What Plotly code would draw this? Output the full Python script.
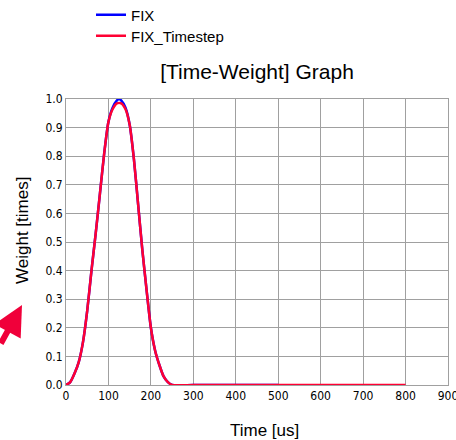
import plotly.graph_objects as go

# Time [us] and weights
time_fix = [0, 10, 20, 30, 40, 50, 60, 70, 80, 90, 100, 110, 120, 125, 130, 140, 150, 160, 170, 180,
            190, 200, 210, 220, 230, 240, 250, 300, 400, 500]
weight_fix = [0.0, 0.01, 0.04, 0.08, 0.15, 0.26, 0.40, 0.53, 0.67, 0.81, 0.92, 0.97, 0.995, 1.0, 0.995,
              0.97, 0.91, 0.79, 0.63, 0.47, 0.33, 0.20, 0.12, 0.07, 0.03, 0.01, 0.0, 0.0, 0.0, 0.0]

time_ts = [0, 10, 20, 30, 40, 50, 60, 70, 80, 90, 100, 110, 120, 130, 140, 150, 160, 170, 180,
           190, 200, 210, 220, 230, 240, 250, 300, 400, 500, 600, 700, 800]
weight_ts = [0.0, 0.01, 0.04, 0.08, 0.15, 0.26, 0.40, 0.53, 0.67, 0.81, 0.92, 0.965, 0.985, 0.985,
             0.965, 0.91, 0.79, 0.63, 0.47, 0.33, 0.20, 0.12, 0.07, 0.03, 0.01, 0.0, 0.0, 0.0, 0.0,
             0.0, 0.0, 0.0]

x_ticks = [0, 100, 200, 300, 400, 500, 600, 700, 800, 900]
y_ticks = [0.0, 0.1, 0.2, 0.3, 0.4, 0.5, 0.6, 0.7, 0.8, 0.9, 1.0]

tick_font = dict(family="Liberation Sans Narrow, Arial Narrow, DejaVu Sans Condensed, sans-serif",
                 size=12, color="black")
legend_font = dict(size=15, color="black")

fig = go.Figure()
fig.add_trace(go.Scatter(x=time_fix, y=weight_fix, name="FIX", mode="lines", legend="legend",
                         line=dict(color="#0000ff", width=2.5, shape="spline", smoothing=0.6)))
fig.add_trace(go.Scatter(x=time_ts, y=weight_ts, name="FIX_Timestep", mode="lines", legend="legend2",
                         line=dict(color="#ff0033", width=2.5, shape="spline", smoothing=0.6)))

fig.update_layout(
    width=456, height=440,
    margin=dict(l=66, r=8, t=99, b=55, autoexpand=False),
    paper_bgcolor="white", plot_bgcolor="white",
    font=dict(family="Liberation Sans, Arial, sans-serif", color="black"),
    title=dict(text="[Time-Weight] Graph", x=257 / 456, xanchor="center",
               y=1 - 72 / 440, yanchor="middle", font=dict(size=21, color="black")),
    showlegend=True,
    legend=dict(xref="container", yref="container", x=91 / 456, y=1 - 15 / 440,
                xanchor="left", yanchor="middle", bgcolor="rgba(0,0,0,0)",
                font=legend_font, itemwidth=30),
    legend2=dict(xref="container", yref="container", x=91 / 456, y=1 - 36 / 440,
                 xanchor="left", yanchor="middle", bgcolor="rgba(0,0,0,0)",
                 font=legend_font, itemwidth=30),
    xaxis=dict(range=[0, 900], tickvals=x_ticks, ticktext=[str(v) for v in x_ticks],
               showgrid=True, gridcolor="#a0a0a0", gridwidth=1, ticklabeloverflow="allow",
               showline=True, linecolor="#a0a0a0", linewidth=1, mirror=True,
               zeroline=False, ticks="", tickfont=tick_font),
    yaxis=dict(range=[0, 1.0], tickvals=y_ticks, ticktext=[f"{v:.1f}" for v in y_ticks],
               showgrid=True, gridcolor="#a0a0a0", gridwidth=1, ticklabeloverflow="allow",
               showline=True, linecolor="#a0a0a0", linewidth=1, mirror=True,
               zeroline=False, ticks="", tickfont=tick_font),
)

# axis titles
fig.add_annotation(text="Time [us]", xref="paper", yref="paper",
                   x=(264 - 66) / 382, y=(385 - 430) / 286, xanchor="center", yanchor="middle",
                   showarrow=False, font=dict(size=17, color="black"))
fig.add_annotation(text="Weight [times]", xref="paper", yref="paper", textangle=-90,
                   x=(22 - 66) / 382, y=(385 - 231) / 286, xanchor="center", yanchor="middle",
                   showarrow=False, font=dict(size=17, color="black"))

# red arrow at bottom-left edge
fig.add_annotation(x=(22 - 66) / 382, y=(385 - 305) / 286, xref="paper", yref="paper",
                   text="", showarrow=True, arrowhead=2, arrowsize=1.0, arrowwidth=6,
                   arrowcolor="#f0003a", ax=-36, ay=40)

fig.write_html("out.html", config={"displayModeBar": False},
               post_script="document.body.style.margin='0';document.body.style.overflow='hidden';")
